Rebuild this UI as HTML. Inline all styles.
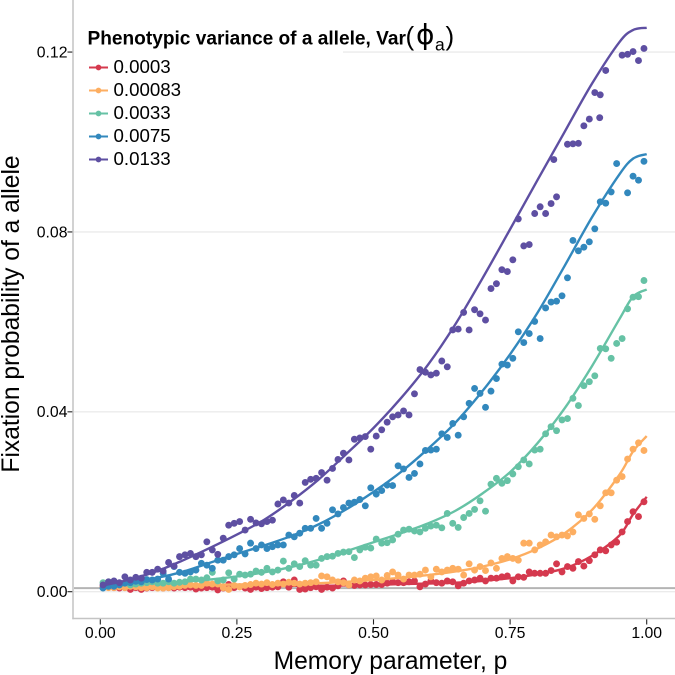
<!DOCTYPE html>
<html lang="en">
<head>
<meta charset="utf-8">
<title>Fixation probability vs memory parameter</title>
<style>
html,body{margin:0;padding:0;background:#fff}
svg{display:block;font-family:"Liberation Sans",Arial,sans-serif}
</style>
</head>
<body>
<svg id="chart" width="675" height="675" viewBox="0 0 675 675" xmlns="http://www.w3.org/2000/svg">
  <rect x="0" y="0" width="675" height="675" fill="#fff"/>
  <g id="grid"></g>
  <rect x="74" y="8" width="269" height="165" fill="#fff"/>
  <line id="refLine" stroke="#b4b4b4" stroke-width="2"/>
  <g id="series"></g>
  <g id="axes"></g>
  <text x="390.5" y="669" font-size="24.6" text-anchor="middle" fill="#000">Memory parameter, p</text>
  <text transform="translate(19,314) rotate(-90)" font-size="24.6" text-anchor="middle" fill="#000">Fixation probability of a allele</text>
  <g>
    <text x="87.5" y="44.5" font-size="19.1" font-weight="bold" fill="#000">Phenotypic variance of a allele, Var</text>
    <text x="405.5" y="45" font-size="26" fill="#000">(</text>
    <text x="416" y="44" font-size="28" font-family="'DejaVu Sans',sans-serif" fill="#000">ϕ</text>
    <text x="435" y="50.5" font-size="17.5" fill="#000">a</text>
    <text x="445.5" y="45" font-size="26" fill="#000">)</text>
    <g id="legendEntries"></g>
  </g>
</svg>
<script>
// Data, values in units of 0.001 probability
const pGrid = [0.005,0.015,0.025,0.035,0.045,0.055,0.065,0.075,0.085,0.095,0.105,0.115,0.125,0.135,0.145,0.155,0.165,0.175,0.185,0.195,0.205,0.215,0.225,0.235,0.245,0.255,0.265,0.275,0.285,0.295,0.305,0.315,0.325,0.335,0.345,0.355,0.365,0.375,0.385,0.395,0.405,0.415,0.425,0.435,0.445,0.455,0.465,0.475,0.485,0.495,0.505,0.515,0.525,0.535,0.545,0.555,0.565,0.575,0.585,0.595,0.605,0.615,0.625,0.635,0.645,0.655,0.665,0.675,0.685,0.695,0.705,0.715,0.725,0.735,0.745,0.755,0.765,0.775,0.785,0.795,0.805,0.815,0.825,0.835,0.845,0.855,0.865,0.875,0.885,0.895,0.905,0.915,0.925,0.935,0.945,0.955,0.965,0.975,0.985,0.995];

const redPoints = [1.1,1.0,.9,.8,.9,.5,.9,.5,.8,.9, 1.0,.8,.9,.8,1.0,.9,1.0,.6,.8,.9, 1.0,.4,.8,1.6,.9,1.1,.8,.5,1.0,.7, .9,1.0,1.1,2.2,1.0,2.6,.5,.6,.9,1.1, .5,1.0,.8,1.3,2.4,1.5,1.4,1.5,1.5,1.6, 1.6,1.6,1.9,2.2,2.0,2.0,2.2,2.4,1.1,1.7, 2.4,2.0,1.9,2.4,2.2,1.3,1.9,2.4,2.6,3.0, 2.4,3.0,3.0,3.3,3.5,2.4,3.3,3.2,4.4,4.1, 4.1,4.1,4.7,6.2,4.4,5.6,5.2,6.7,5.7,6.9, 8.2,9.3,9.1,10.4,11.0,13.3,15.6,17.8,16.7,20.0];

const orangePoints = [1.1,.9,.9,1.1,.9,1.2,1.1,.9,.9,1.1, .8,.8,.9,1.1,1.2,1.4,1.5,1.4,1.4,1.9, 1.7,1.7,.9,.5,1.4,1.1,1.4,1.6,1.9,1.7, 2.0,1.6,1.9,1.7,2.1,1.9,1.7,1.9,2.0,2.2, 3.5,3.3,2.6,2.2,2.0,1.5,2.6,2.4,3.0,3.3, 3.5,2.6,3.6,4.4,3.7,2.8,3.7,3.7,3.9,4.8, 3.3,5.0,4.4,4.8,5.2,5.0,3.7,6.2,4.8,5.6, 4.7,6.4,5.2,7.4,7.8,7.4,7.0,10.8,10.8,9.3, 10.4,11.1,12.6,12.2,12.6,12.4,13.3,17.1,16.3,17.3, 16.1,19.1,22.0,22.0,24.8,25.6,29.5,31.7,33.1,31.4];

const greenPoints = [2.0,2.2,2.0,1.7,1.9,1.5,1.7,1.9,2.0,2.2, 1.9,1.9,2.2,1.9,2.1,2.2,2.8,2.8,2.6,3.1, 4.3,2.4,2.6,4.2,2.8,3.9,3.7,3.9,4.6,4.3, 5.2,4.4,4.8,6.8,5.2,6.2,5.6,6.9,5.9,5.9, 7.4,7.8,7.9,8.5,8.8,8.9,7.6,9.3,9.9,9.7, 11.7,10.8,10.9,11.5,12.8,13.7,13.9,13.5,13.3,14.1, 14.6,14.8,14.2,17.4,15.2,14.3,16.5,17.4,18.3,20.2, 17.9,23.9,25.2,24.1,24.7,26.2,27.8,29.3,28.4,31.5, 31.7,35.1,36.7,35.8,38.2,38.5,43.0,41.4,45.8,46.7, 48.0,54.1,54.0,51.9,55.2,56.3,62.9,65.5,65.6,69.2];

const bluePoints = [.8,1.2,1.2,1.5,1.9,2.0,2.3,2.2,2.7,2.6, 2.8,4.1,2.8,5.6,4.3,4.1,4.4,4.8,6.3,5.9, 5.2,7.0,7.0,7.8,8.2,9.6,8.4,10.8,9.6,10.4, 9.6,10.0,10.4,10.4,12.6,12.2,13.0,14.1,14.1,16.3, 14.1,15.2,18.2,17.3,18.7,19.7,19.9,20.5,19.1,23.1, 21.7,22.5,23.7,23.6,28.0,27.3,25.4,26.3,28.4,31.4, 31.5,31.7,35.1,34.3,37.4,34.8,38.9,41.9,45.2,44.1, 41.0,44.6,47.4,50.6,50.4,51.9,57.8,55.4,57.4,60.1, 56.3,63.1,64.4,64.6,65.8,69.8,78.1,75.8,76.6,77.8, 80.7,86.7,86.4,88.9,95.2,null,88.7,92.4,91.5,95.7];

const purplePoints = [1.5,2.2,2.4,2.0,3.3,2.6,3.2,3.0,4.3,4.3, 5.0,4.6,6.5,5.7,7.8,8.2,8.5,7.8,8.2,11.1, 9.3,8.3,11.9,14.8,15.2,15.6,13.7,16.1,15.3,15.1, 15.6,15.9,19.5,20.4,19.7,21.4,19.7,24.3,25.0,25.2, 26.5,24.8,27.4,29.4,30.8,29.3,33.9,34.2,34.5,31.7, 34.6,36.0,37.7,38.9,39.3,40.2,39.3,44.0,49.4,48.8, 48.2,48.6,51.3,50.0,58.2,58.4,62.1,58.2,62.7,61.8, 60.4,67.4,68.5,71.6,71.2,73.8,82.9,76.9,77.2,84.1, 85.6,84.1,86.3,87.8,null,99.5,99.6,99.7,103.6,105.1, 111.0,110.5,115.9,null,null,119.3,119.5,120.1,118.1,120.8];
const purpleExtraP = [0.830,0.914];
const purpleExtraPoints = [96.1,105.4];

const lineP = [0.01,0.05,0.1,0.15,0.2,0.25,0.3,0.35,0.4,0.45,0.5,0.55,0.6,0.65,0.7,0.75,0.8,0.85,0.9,0.95,0.975,1];
const redLine = [1.0,1.0,1.05,1.1,1.1,1.2,1.2,1.3,1.3,1.4,1.5,1.7,1.8,2.0,2.4,3.0,3.9,5.2,8.0,12.5,17.2,21.1];
const orangeLine = [1.2,1.2,1.3,1.4,1.5,1.6,1.7,1.8,1.9,2.2,2.6,3.1,3.7,4.5,5.6,7.2,9.6,13.0,18.2,26.0,31.2,34.6];
const greenLine = [1.5,1.7,1.9,2.2,2.7,3.4,4.3,5.5,7.1,9.0,11.0,13.0,15.2,18.0,21.9,26.6,33.0,40.8,50.2,60.6,65.6,67.2];
const blueLine = [1.3,2.2,3.0,4.4,6.4,8.4,10.3,12.4,15.0,18.3,22.2,26.6,31.8,37.6,44.7,52.8,62.0,72.5,83.3,92.8,96.3,97.3];
const purpleLine = [1.5,2.6,4.4,6.9,9.7,12.7,16.0,20.2,25.0,30.6,36.4,43.0,50.5,59.5,69.8,80.6,91.5,102.3,113.0,122.2,124.9,125.4];

const legendLabels = ["0.0003","0.00083","0.0033","0.0075","0.0133"];
const seriesColors = ["#d5394e","#fdae61","#66c2a5","#3288bd","#5e4fa2"];
const xTickValues = [0,0.25,0.5,0.75,1];
const xTickLabels = ["0.00","0.25","0.50","0.75","1.00"];
const yTickValues = [0,40,80,120];
const yTickLabels = ["0.00","0.04","0.08","0.12"];
const referenceLevel = 0.8;

const seriesDots = [redPoints,orangePoints,greenPoints,bluePoints,purplePoints];
const seriesLines = [redLine,orangeLine,greenLine,blueLine,purpleLine];
const seriesNames = ["red","orange","green","blue","purple"];

// Axis functions
const NS = "http://www.w3.org/2000/svg";
function xScale(p){ return 100.3 + 546.4 * p; }
function yScale(v){ return 591.7 - 4.497 * v; }

function mk(tag, attrs, parent){
  const el = document.createElementNS(NS, tag);
  for (const k in attrs) el.setAttribute(k, attrs[k]);
  parent.appendChild(el);
  return el;
}
function smoothPath(xs, ys){
  const pts = xs.map(function(p,i){ return [xScale(p), yScale(ys[i])]; });
  let d = "M" + pts[0][0].toFixed(2) + "," + pts[0][1].toFixed(2);
  for (let i = 0; i < pts.length - 1; i++){
    const a = pts[Math.max(i-1,0)], b = pts[i], c = pts[i+1], e = pts[Math.min(i+2,pts.length-1)];
    const c1x = b[0] + (c[0]-a[0])/6, c1y = b[1] + (c[1]-a[1])/6;
    const c2x = c[0] - (e[0]-b[0])/6, c2y = c[1] - (e[1]-b[1])/6;
    d += "C" + c1x.toFixed(2) + "," + c1y.toFixed(2) + " " + c2x.toFixed(2) + "," + c2y.toFixed(2) + " " + c[0].toFixed(2) + "," + c[1].toFixed(2);
  }
  return d;
}

// Gridlines
const gridG = document.getElementById("grid");
yTickValues.forEach(function(v){
  const g = mk("line", {x1:74, x2:675, y1:yScale(v), y2:yScale(v), stroke:"#ebebeb", "stroke-width":1.4}, gridG);
  
  
});

// Reference line
const ref = document.getElementById("refLine");
ref.setAttribute("x1", 74);
ref.setAttribute("x2", 675);
ref.setAttribute("y1", yScale(referenceLevel));
ref.setAttribute("y2", yScale(referenceLevel));

// Series
const seriesG = document.getElementById("series");
seriesDots.forEach(function(values, s){
  const group = mk("g", {}, seriesG);
  
  
  values.forEach(function(v, i){
    if (v === null) return;
    const c = mk("circle", {cx:xScale(pGrid[i]), cy:yScale(v), r:3.45, fill:seriesColors[s]}, group);
    
    
  });
  if (s === 4){
    purpleExtraPoints.forEach(function(v, i){
      const c = mk("circle", {cx:xScale(purpleExtraP[i]), cy:yScale(v), r:3.45, fill:seriesColors[s]}, group);
      
      
    });
  }
  const path = mk("path", {d:smoothPath(lineP, seriesLines[s]), fill:"none", stroke:seriesColors[s], "stroke-width":2.4}, group);
  
  
});

// Axes
const axesG = document.getElementById("axes");
const yAxis = mk("line", {x1:73, x2:73, y1:0, y2:619.2, stroke:"#c4c4c4", "stroke-width":1.5}, axesG);


const xAxis = mk("line", {x1:72.3, x2:675, y1:618.5, y2:618.5, stroke:"#c4c4c4", "stroke-width":1.5}, axesG);



xTickValues.forEach(function(p, i){
  const t = mk("line", {x1:xScale(p), x2:xScale(p), y1:619.3, y2:624.5, stroke:"#222", "stroke-width":1.1}, axesG);
  
  
  const l = mk("text", {x:xScale(p), y:638, "font-size":15.8, "text-anchor":"middle", fill:"#000"}, axesG);
  l.textContent = xTickLabels[i];
  
  
});
yTickValues.forEach(function(v, i){
  const t = mk("line", {x1:67.5, x2:72.3, y1:yScale(v), y2:yScale(v), stroke:"#222", "stroke-width":1.1}, axesG);
  
  
  const l = mk("text", {x:67.5, y:yScale(v)+5.4, "font-size":15.8, "text-anchor":"end", fill:"#000"}, axesG);
  l.textContent = yTickLabels[i];
  
  
});

// Legend entries
const legendG = document.getElementById("legendEntries");
legendLabels.forEach(function(label, i){
  const cy = 67.5 + 23 * i;
  const g = mk("g", {}, legendG);
  
  
  const ln = mk("line", {x1:89, x2:108, y1:cy, y2:cy, stroke:seriesColors[i], "stroke-width":1.9}, g);
  
  
  const dot = mk("circle", {cx:98.5, cy:cy, r:2.9, fill:seriesColors[i]}, g);
  
  
  const tx = mk("text", {x:113.5, y:cy+5.5, "font-size":18.7, fill:"#000"}, g);
  tx.textContent = label;
  
  
});
</script>
</body>
</html>
